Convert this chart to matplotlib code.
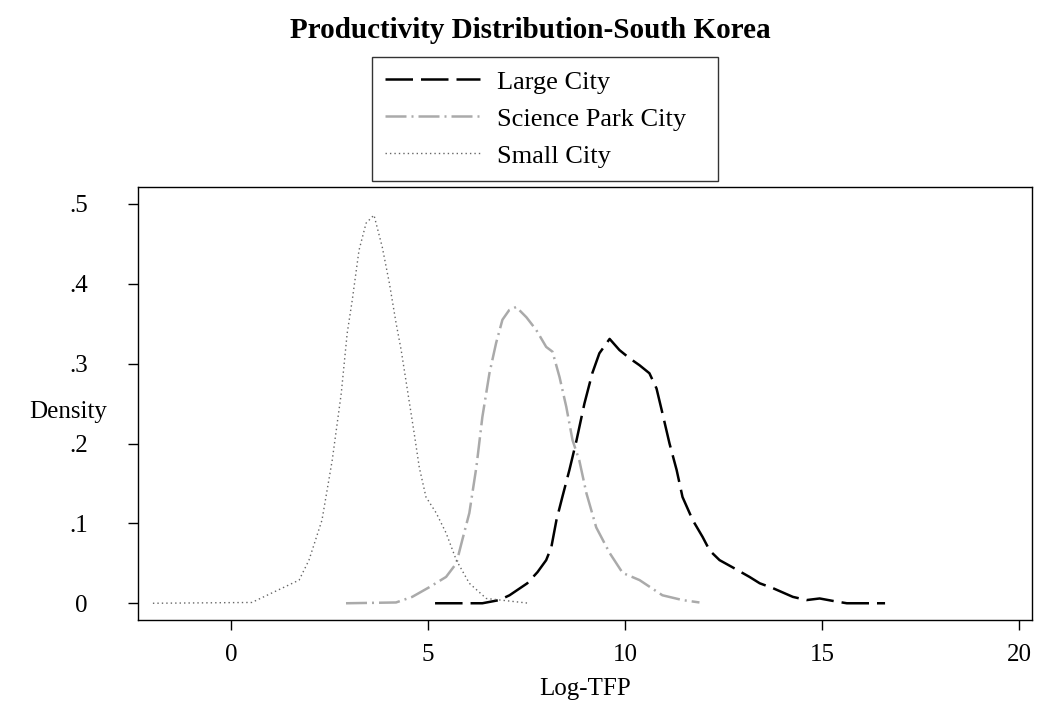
import numpy as np
from matplotlib import pyplot as plt

plt.rcParams['font.family'] = ['Liberation Serif', 'DejaVu Serif']

# Large City density
large_x = [5.18, 6.38, 6.81, 7.07, 7.52, 7.78, 8.0, 8.13, 8.26, 8.41, 8.59, 8.77, 8.97, 9.17, 9.35,
           9.61, 9.86, 10.11, 10.37, 10.62, 10.8, 10.95, 11.13, 11.31, 11.46, 11.72, 11.97, 12.15,
           12.4, 12.73, 13.16, 13.42, 13.75, 14.26, 14.61, 14.94, 15.27, 15.63, 16.14, 16.6]
large_y = [0.0, 0.0, 0.004, 0.01, 0.025, 0.039, 0.054, 0.07, 0.104, 0.133, 0.167, 0.204, 0.25, 0.288, 0.313,
           0.331, 0.317, 0.307, 0.298, 0.288, 0.269, 0.238, 0.2, 0.167, 0.133, 0.104, 0.083, 0.066,
           0.054, 0.045, 0.033, 0.025, 0.019, 0.008, 0.004, 0.006, 0.003, 0.0, 0.0, 0.0]

# Science Park City density
sci_x = [2.92, 4.19, 4.6, 5.03, 5.46, 5.72, 5.87, 6.05, 6.23, 6.38, 6.56, 6.73, 6.89, 7.06, 7.24,
         7.5, 7.75, 8.0, 8.16, 8.34, 8.51, 8.67, 8.84, 9.02, 9.27, 9.61, 9.94, 10.37, 10.95, 11.46, 11.89]
sci_y = [0.0, 0.001, 0.008, 0.02, 0.033, 0.05, 0.079, 0.113, 0.171, 0.233, 0.288, 0.326, 0.355, 0.367, 0.371,
         0.358, 0.342, 0.321, 0.315, 0.283, 0.246, 0.204, 0.179, 0.138, 0.095, 0.063, 0.038, 0.029, 0.01, 0.004, 0.001]

# Small City density
small_x = [-1.98, 0.53, 1.73, 1.98, 2.31, 2.57, 2.8, 2.95, 3.08, 3.25, 3.43, 3.63, 3.84, 4.02, 4.19,
           4.32, 4.52, 4.65, 4.78, 4.95, 5.21, 5.46, 5.72, 6.05, 6.48, 7.57]
small_y = [0.0, 0.001, 0.029, 0.054, 0.104, 0.179, 0.263, 0.338, 0.38, 0.442, 0.476, 0.486, 0.446, 0.401, 0.351,
           0.317, 0.254, 0.213, 0.17, 0.133, 0.113, 0.088, 0.054, 0.025, 0.006, 0.0]

xticks = [0, 5, 10, 15, 20]
yticks = [0, 0.1, 0.2, 0.3, 0.4, 0.5]
ytick_labels = ['0', '.1', '.2', '.3', '.4', '.5']

fig = plt.figure(figsize=(10.45, 7.01), dpi=100)
ax = fig.add_axes([0.132, 0.1155, 0.8556, 0.6175])

l1, = ax.plot(large_x, large_y, color='black', lw=1.8, dashes=(11, 3.2), label='Large City')
l2, = ax.plot(sci_x, sci_y, color='#aaaaaa', lw=1.8, dashes=(8.4, 2, 0.8, 2), label='Science Park City')
l3, = ax.plot(small_x, small_y, color='#666666', lw=1.0, dashes=(1, 2.2), label='Small City')

ax.set_xlim(-2.36, 20.33)
ax.set_ylim(-0.021, 0.521)
ax.set_xticks(xticks)
ax.set_yticks(yticks)
ax.set_yticklabels(ytick_labels)
ax.tick_params(axis='both', direction='out', length=7, width=1, labelsize=18)
ax.tick_params(axis='y', pad=29)
ax.tick_params(axis='x', pad=10)
for s in ax.spines.values():
  s.set_linewidth(1)
ax.set_xlabel('Log-TFP', fontsize=18, labelpad=9)

fig.text(68/1045, 1-412/701, 'Density', fontsize=18, ha='center', va='center')
fig.text(530/1045, 1-31/701, 'Productivity Distribution-South Korea', fontsize=21,
         fontweight='bold', ha='center', va='center')

# legend box: x 372..718, top at y 57 (pixels)
leg = fig.legend(handles=[l1, l2, l3], loc='upper left',
                 bbox_to_anchor=(372/1045, 1-181/701, 346/1045, 124/701), mode='expand',
                 fontsize=19, frameon=True, fancybox=False, edgecolor='black',
                 handlelength=3.6, handletextpad=0.65, borderpad=0.5, labelspacing=0.51,
                 borderaxespad=0)
leg.get_frame().set_linewidth(1)

fig.savefig('out.png', dpi=100)
